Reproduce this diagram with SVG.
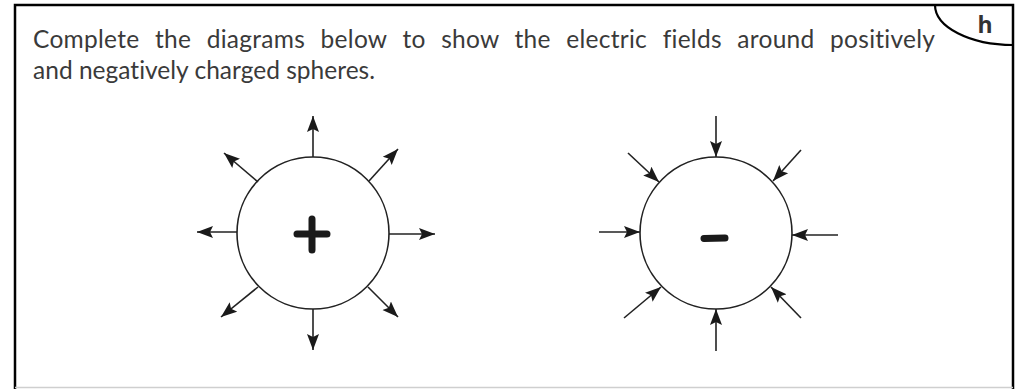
<svg xmlns="http://www.w3.org/2000/svg" width="1029" height="389" viewBox="0 0 1029 389">
  <style>
    .frame { fill: none; stroke: #000; stroke-width: 2.5; }
    .txt { font-family: Lato, "Open Sans", "Liberation Sans", sans-serif; font-size: 24.5px; fill: #3a3a3a; font-variant-ligatures: none; }
    .wide { word-spacing: 9px; }
    .tab { font-family: "Open Sans", "Liberation Sans", sans-serif; font-size: 23px; font-weight: bold; fill: #333; }
    .sphere { fill: #fff; stroke: #222; stroke-width: 1.6; }
    .arrow { stroke: #222; stroke-width: 1.6; fill: none; marker-end: url(#head); }
    .sign { stroke: #1a1a1a; stroke-width: 7; stroke-linecap: round; fill: none; }
  </style>
  <defs>
    <marker id="head" markerUnits="userSpaceOnUse" markerWidth="17" markerHeight="13" refX="16" refY="6.5" orient="auto" viewBox="0 0 17 13">
      <path d="M0,0.5 L16,6.5 L0,12.5 L3,6.5 z" fill="#1a1a1a"/>
    </marker>
  </defs>
  <rect width="1029" height="389" fill="#fff"/>
  <g id="frame">
    <path class="frame" d="M15,389 L15,5 L1013,5 L1013,389"/>
    <line x1="15" y1="387.5" x2="1013" y2="387.5" stroke="#cfcfcf" stroke-width="1.5"/>
    <path d="M935,5 A78,40 0 0 0 1013,45" fill="none" stroke="#000" stroke-width="2.2"/>
    <text class="tab" x="985" y="33" text-anchor="middle">h</text>
  </g>
  <g id="question">
    <text class="txt wide" x="33" y="48" textLength="902" lengthAdjust="spacing">Complete the diagrams below to show the electric fields around positively</text>
    <text class="txt" x="33" y="79" textLength="342" lengthAdjust="spacing">and negatively charged spheres.</text>
  </g>
  <g id="positive-sphere">
    <circle class="sphere" cx="313" cy="233" r="76"/>
    <path class="sign" d="M297,234 L327,234 M312,219 L312,250"/>
  </g>
  <g id="negative-sphere">
    <circle class="sphere" cx="716" cy="233" r="76"/>
    <path class="sign" d="M704,238.5 L725,238" stroke-linecap="butt"/>
  </g>
  <g id="connectors">
    <line class="arrow" x1="313" y1="157" x2="313" y2="116"/>
    <line class="arrow" x1="313" y1="309" x2="313" y2="350"/>
    <line class="arrow" x1="389" y1="234" x2="435" y2="234"/>
    <line class="arrow" x1="237" y1="232" x2="197" y2="232"/>
    <line class="arrow" x1="258" y1="182" x2="224" y2="153"/>
    <line class="arrow" x1="369" y1="181" x2="398" y2="149"/>
    <line class="arrow" x1="258" y1="287" x2="221" y2="317"/>
    <line class="arrow" x1="368" y1="287" x2="398" y2="317"/>

    <line class="arrow" x1="716" y1="116" x2="716" y2="157"/>
    <line class="arrow" x1="716" y1="351" x2="716" y2="309"/>
    <line class="arrow" x1="599" y1="232" x2="640" y2="232"/>
    <line class="arrow" x1="838" y1="235" x2="792" y2="235"/>
    <line class="arrow" x1="628" y1="153" x2="659" y2="182"/>
    <line class="arrow" x1="801" y1="150" x2="773" y2="181"/>
    <line class="arrow" x1="624" y1="318" x2="661" y2="287"/>
    <line class="arrow" x1="801" y1="318" x2="771" y2="287"/>
  </g>
</svg>
